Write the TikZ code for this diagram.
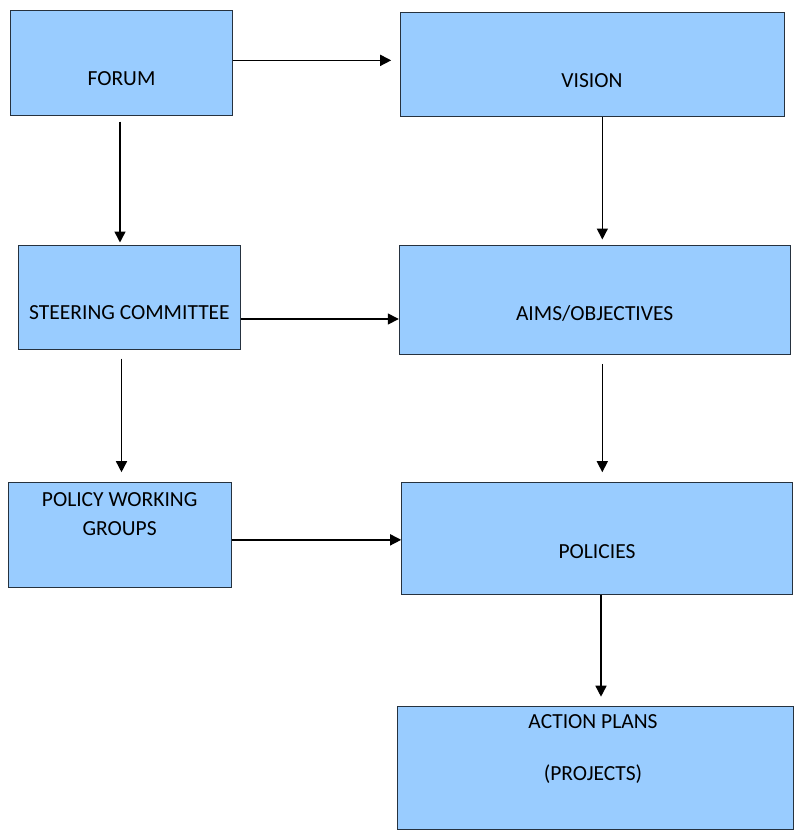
\documentclass[tikz,border=0pt]{standalone}
\usepackage{fontspec}
\setmainfont{Carlito}
\usetikzlibrary{arrows.meta}
\definecolor{boxblue}{HTML}{99CCFF}
\definecolor{boxline}{HTML}{26323F}

\begin{document}
\begin{tikzpicture}[x=1pt,y=-1pt,
  box/.style={draw=boxline,fill=boxblue,line width=1pt,rectangle,inner sep=0pt},
  lbl/.style={font=\fontsize{21.5}{29}\selectfont,align=center,inner sep=0pt},
  arr/.style={line width=1.5pt,-{Triangle[length=11pt,width=11pt]}}]
\useasboundingbox (0,0) rectangle (794,831);
\node[box,minimum width=221.6pt,minimum height=104.3pt] (forum) at (121.5,62.85) {};
\node[box,minimum width=383.3pt,minimum height=104pt] (vision) at (592.35,64.7) {};
\node[box,minimum width=222.4pt,minimum height=104pt] (steer) at (129.5,297) {};
\node[box,minimum width=390.7pt,minimum height=109.3pt] (aims) at (594.65,299.65) {};
\node[box,minimum width=222.7pt,minimum height=104.3pt] (pwg) at (119.65,534.85) {};
\node[box,minimum width=391pt,minimum height=111.3pt] (policies) at (597.2,538.35) {};
\node[box,minimum width=395.7pt,minimum height=122.6pt] (action) at (595.15,768) {};

\node[lbl] (forumtxt) at (121.5,79) {FORUM};
\node[lbl] (visiontxt) at (592,81) {VISION};
\node[lbl] (steertxt) at (129.5,313) {STEERING COMMITTEE};
\node[lbl] (aimstxt) at (594.65,313) {AIMS/OBJECTIVES};
\node[lbl] (pwgtxt) at (119.65,513.8) {POLICY WORKING\\GROUPS};
\node[lbl] (policiestxt) at (597,551.7) {POLICIES};
\node[lbl] (actiontxt) at (593,748.8) {ACTION PLANS\\[23pt](PROJECTS)};

\draw[arr,shorten >=9pt] ([yshift=2.5pt]forum.east) -- ([yshift=2.5pt]forum.east -| vision.west);
\draw[arr,shorten <=6pt,shorten >=2pt] ([xshift=-1.5pt]forum.south) -- ([xshift=-1.5pt]forum.south |- steer.north);
\draw[arr,shorten >=5pt] ([xshift=10pt]vision.south) -- ([xshift=10pt]vision.south |- aims.north);
\draw[arr] ([yshift=-22pt]steer.east) -- ([yshift=-22pt]steer.east -| aims.west);
\draw[arr,shorten <=9pt,shorten >=10pt] ([xshift=-8pt]steer.south) -- ([xshift=-8pt]steer.south |- pwg.north);
\draw[arr,shorten <=9pt,shorten >=10pt] ([xshift=7.65pt]aims.south) -- ([xshift=7.65pt]aims.south |- policies.north);
\draw[arr] ([yshift=-5pt]pwg.east) -- ([yshift=-5pt]pwg.east -| policies.west);
\draw[arr,shorten >=9.5pt] ([xshift=3.8pt]policies.south) -- ([xshift=3.8pt]policies.south |- action.north);
\end{tikzpicture}
\end{document}
